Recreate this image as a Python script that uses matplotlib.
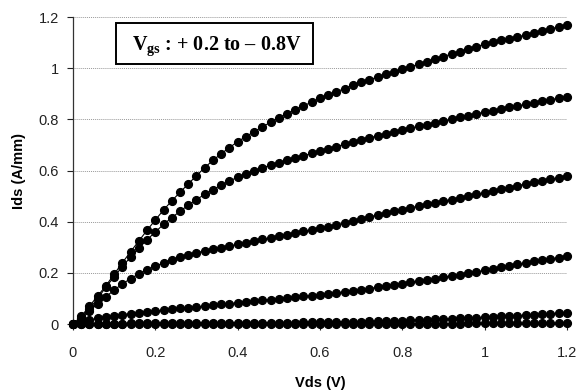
import numpy as np
import matplotlib.pyplot as plt
from matplotlib.patches import Rectangle

plt.rcParams['font.family'] = ['Liberation Sans', 'DejaVu Sans']
plt.rcParams['mathtext.fontset'] = 'custom'
plt.rcParams['mathtext.rm'] = 'Liberation Serif:bold'
plt.rcParams['mathtext.bf'] = 'Liberation Serif:bold'

# drain voltage, 0.02 V steps
vds = np.arange(61) * 0.02

# drain current (A/mm), one list per gate voltage
ids_p02 = [0, 0.03, 0.07, 0.11, 0.15, 0.195, 0.24, 0.283, 0.325, 0.367,
           0.407, 0.446, 0.482, 0.515, 0.548, 0.58, 0.612, 0.64, 0.666, 0.69,
           0.713, 0.733, 0.752, 0.771, 0.789, 0.806, 0.822, 0.838, 0.853, 0.868,
           0.882, 0.895, 0.908, 0.921, 0.933, 0.945, 0.955, 0.966, 0.976, 0.986,
           0.996, 1.006, 1.016, 1.026, 1.036, 1.046, 1.056, 1.065, 1.075, 1.085,
           1.094, 1.102, 1.109, 1.116, 1.123, 1.13, 1.138, 1.146, 1.154, 1.162,
           1.17]
ids_0 = [0, 0.022, 0.06, 0.1, 0.145, 0.185, 0.225, 0.262, 0.297, 0.33,
         0.36, 0.39, 0.416, 0.441, 0.465, 0.487, 0.507, 0.526, 0.543, 0.559,
         0.574, 0.588, 0.6, 0.611, 0.621, 0.631, 0.64, 0.649, 0.658, 0.667,
         0.676, 0.685, 0.694, 0.703, 0.712, 0.72, 0.728, 0.736, 0.744, 0.752,
         0.759, 0.766, 0.773, 0.78, 0.787, 0.794, 0.801, 0.808, 0.815, 0.822,
         0.829, 0.835, 0.841, 0.847, 0.853, 0.859, 0.865, 0.871, 0.877, 0.883,
         0.889]
ids_m02 = [0, 0.02, 0.05, 0.08, 0.107, 0.133, 0.157, 0.178, 0.196, 0.212,
           0.226, 0.24, 0.252, 0.262, 0.271, 0.279, 0.286, 0.292, 0.298, 0.305,
           0.312, 0.318, 0.325, 0.331, 0.337, 0.344, 0.35, 0.356, 0.362, 0.368,
           0.374, 0.381, 0.388, 0.395, 0.403, 0.411, 0.419, 0.427, 0.434, 0.441,
           0.448, 0.455, 0.461, 0.468, 0.474, 0.481, 0.487, 0.494, 0.5, 0.507,
           0.514, 0.52, 0.527, 0.534, 0.541, 0.548, 0.554, 0.56, 0.566, 0.572,
           0.578]
ids_m04 = [0, 0.008, 0.016, 0.023, 0.029, 0.033, 0.037, 0.041, 0.045, 0.048,
           0.051, 0.054, 0.058, 0.061, 0.064, 0.067, 0.07, 0.073, 0.077, 0.08,
           0.083, 0.087, 0.09, 0.093, 0.096, 0.099, 0.102, 0.105, 0.108, 0.111,
           0.114, 0.118, 0.122, 0.126, 0.13, 0.134, 0.139, 0.144, 0.148, 0.153,
           0.158, 0.163, 0.168, 0.173, 0.178, 0.183, 0.188, 0.193, 0.199, 0.204,
           0.21, 0.216, 0.222, 0.228, 0.234, 0.24, 0.245, 0.25, 0.255, 0.26,
           0.265]
ids_m06 = [0, 0.001, 0.001, 0.002, 0.002, 0.002, 0.002, 0.003, 0.003, 0.003,
           0.003, 0.003, 0.003, 0.004, 0.004, 0.004, 0.004, 0.004, 0.004, 0.005,
           0.005, 0.005, 0.005, 0.005, 0.006, 0.006, 0.006, 0.006, 0.007, 0.007,
           0.007, 0.008, 0.008, 0.009, 0.009, 0.01, 0.011, 0.011, 0.012, 0.013,
           0.014, 0.015, 0.016, 0.017, 0.018, 0.019, 0.021, 0.022, 0.024, 0.025,
           0.027, 0.028, 0.03, 0.032, 0.033, 0.035, 0.037, 0.039, 0.041, 0.043,
           0.045]
ids_m08 = [0, 0, 0, 0, 0, 0, 0, 0, 0, 0,
           0.001, 0.001, 0.001, 0.001, 0.001, 0.001, 0.001, 0.001, 0.001, 0.001,
           0.001, 0.001, 0.001, 0.001, 0.001, 0.001, 0.001, 0.001, 0.001, 0.001,
           0.002, 0.002, 0.002, 0.002, 0.002, 0.002, 0.002, 0.002, 0.002, 0.002,
           0.002, 0.002, 0.002, 0.002, 0.002, 0.002, 0.002, 0.002, 0.003, 0.003,
           0.003, 0.003, 0.003, 0.003, 0.003, 0.003, 0.003, 0.003, 0.003, 0.003,
           0.003]

curves = [ids_p02, ids_0, ids_m02, ids_m04, ids_m06, ids_m08]
ticks = [0, 0.2, 0.4, 0.6, 0.8, 1, 1.2]
tick_labels = ['0', '0.2', '0.4', '0.6', '0.8', '1', '1.2']

fig = plt.figure(figsize=(5.82, 3.9), dpi=100)
ax = fig.add_axes([0.1254, 0.169, 0.8486, 0.787])

for c in curves:
    ax.plot(vds, c, color='black', lw=0.8, marker='o', ms=5.6,
            mec='black', mfc='black', clip_on=False, zorder=3)

ax.set_xlim(0, 1.2)
ax.set_ylim(0, 1.2)
ax.set_xticks(ticks)
ax.set_xticklabels(tick_labels)
ax.set_yticks(ticks)
ax.set_yticklabels(tick_labels)
ax.tick_params(labelsize=10.5, colors='#222222', length=4, width=0.8)
ax.tick_params(axis='x', pad=12)
ax.tick_params(axis='y', pad=6)

ax.yaxis.grid(True, linestyle=(0, (1, 1)), color='#999999', lw=0.7)
ax.set_axisbelow(True)
for s in ['top', 'right']:
    ax.spines[s].set_visible(False)
for s in ['left', 'bottom']:
    ax.spines[s].set_color('#333333')
    ax.spines[s].set_linewidth(0.9)

ax.set_xlabel('Vds (V)', fontsize=10.5, fontweight='bold', labelpad=11)
ax.set_ylabel('Ids (A/mm)', fontsize=10.5, fontweight='bold', labelpad=9)

# label box
ax.add_patch(Rectangle((0.088, 0.847), 0.398, 0.133, transform=ax.transAxes,
                       fc='white', ec='black', lw=1.4, zorder=4, clip_on=False))
ax.text(0.119, 0.893, r'$\mathbf{V_{gs}}$ : + 0.2 to – 0.8V', transform=ax.transAxes,
        family=['Liberation Serif', 'DejaVu Serif'], fontsize=14.5,
        fontweight='bold', va='baseline', ha='left', zorder=5)

fig.savefig('out.png', dpi=100)
